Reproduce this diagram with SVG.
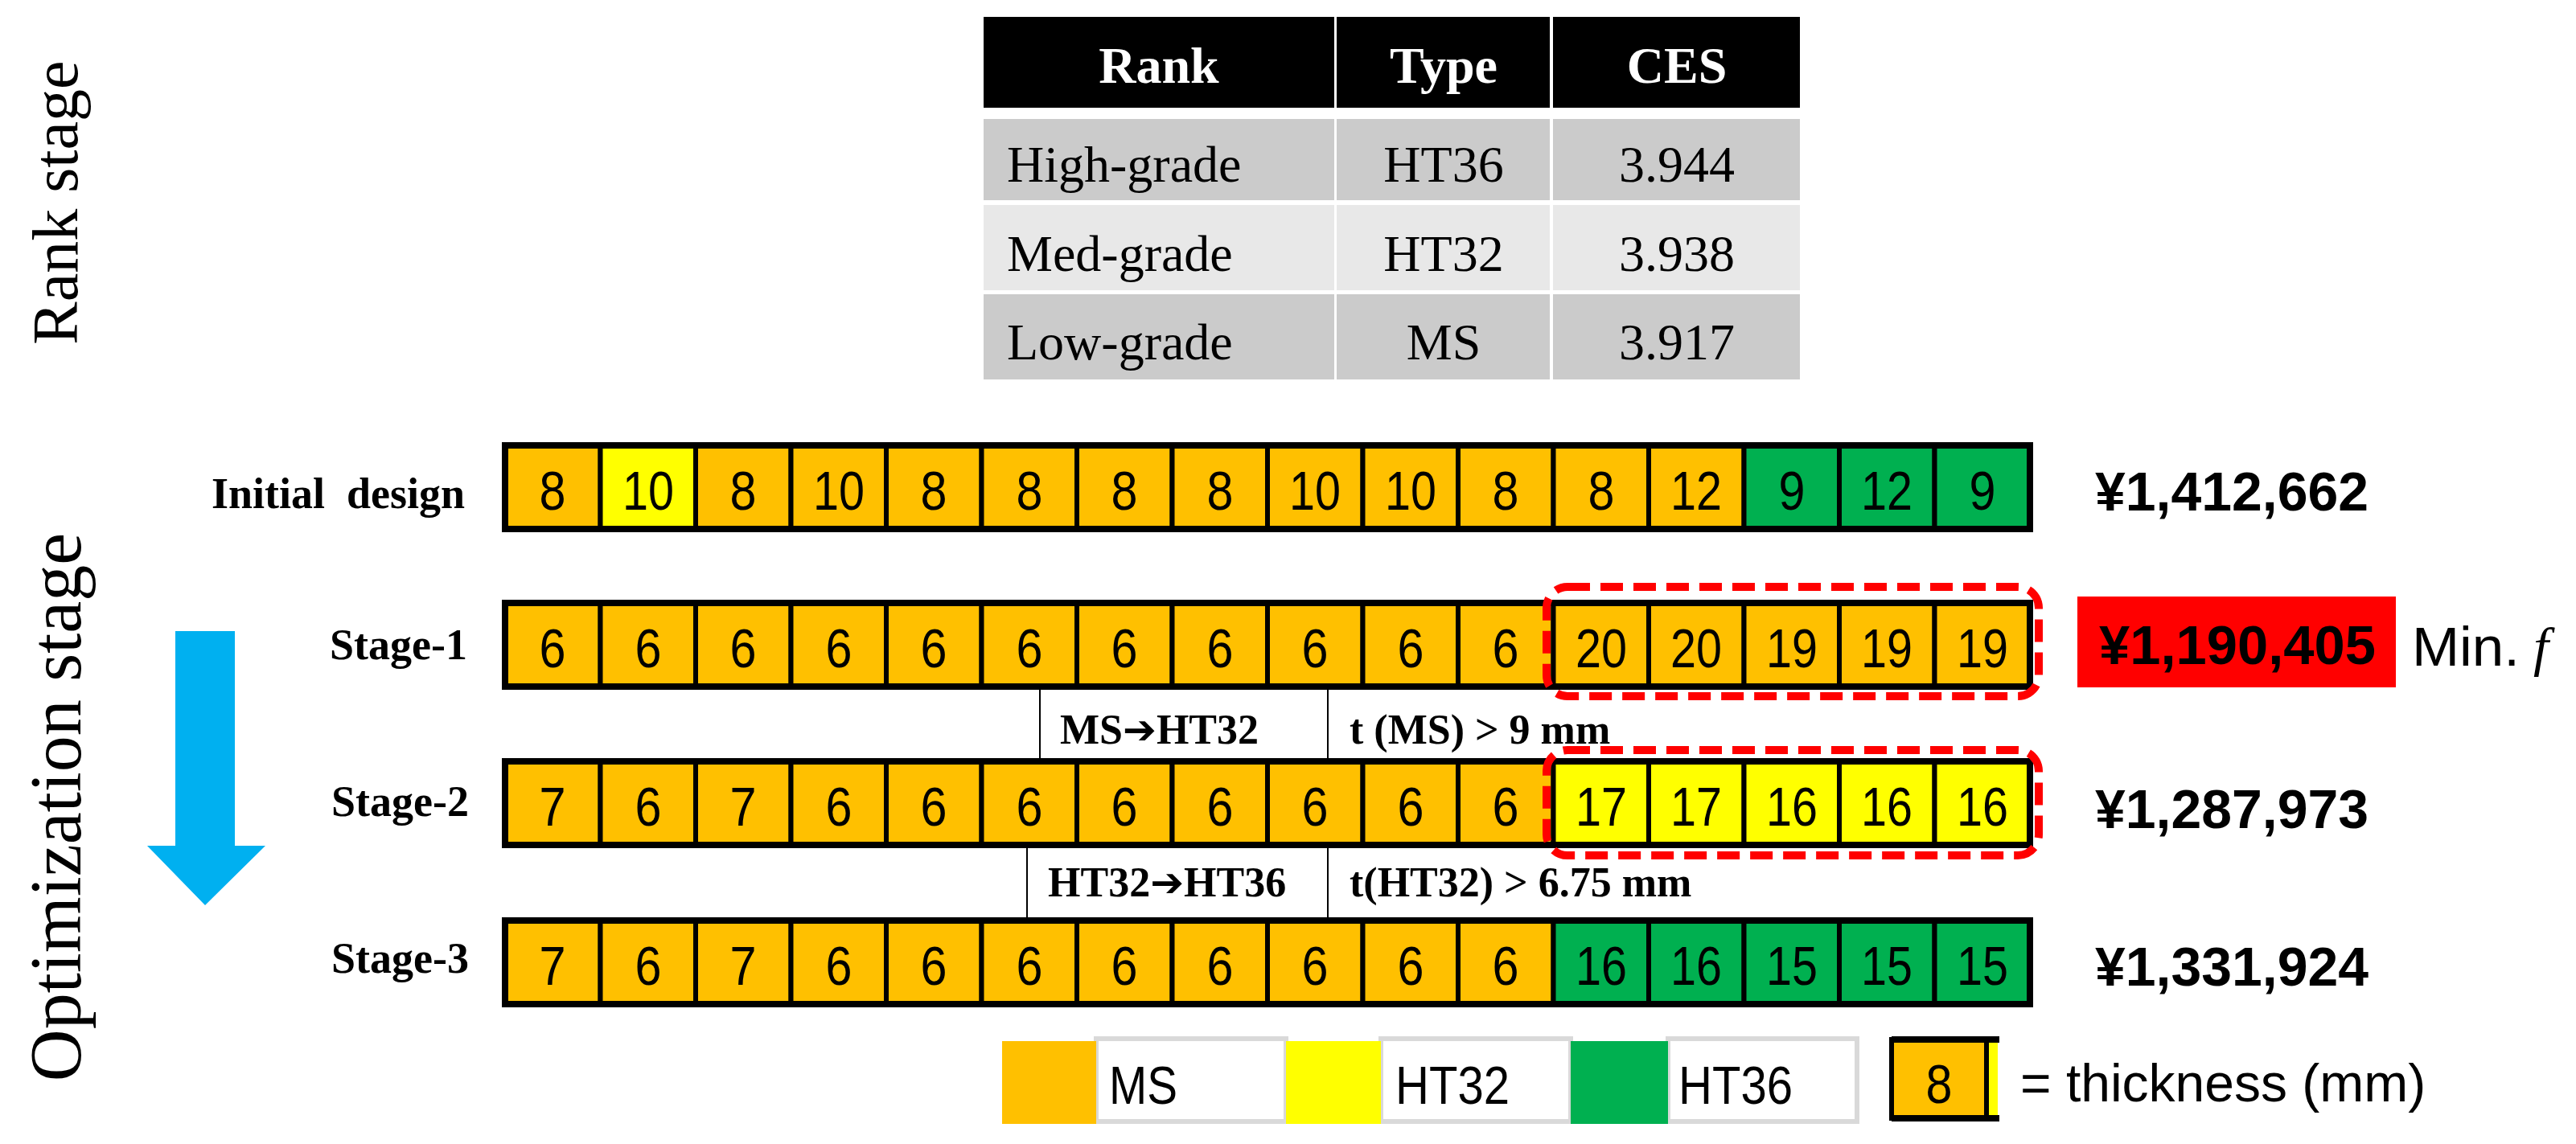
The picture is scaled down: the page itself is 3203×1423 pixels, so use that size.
<svg xmlns="http://www.w3.org/2000/svg" width="3203" height="1423" viewBox="0 0 3203 1423">
<style>
.o{fill:#FFC000}.y{fill:#FFFF00}.g{fill:#00B050}
.c{stroke:#000;stroke-width:6}
.frame{fill:none;stroke:#000;stroke-width:8}
.n{font-family:"Liberation Sans",sans-serif;font-size:68px;text-anchor:middle;fill:#000}
.lbl{font-family:"Liberation Serif",serif;font-weight:bold;font-size:54px;text-anchor:end}
.cost{font-family:"Liberation Sans",sans-serif;font-weight:bold;font-size:68px}
.th{font-family:"Liberation Serif",serif;font-weight:bold;font-size:64px;fill:#fff;text-anchor:middle}
.td{font-family:"Liberation Serif",serif;font-size:64px;fill:#000}
.mid{text-anchor:middle}
.ann{font-family:"Liberation Serif",serif;font-weight:bold;font-size:52px}
.arr{font-family:"DejaVu Sans",sans-serif;font-size:50px;font-weight:bold}
.side{font-family:"Liberation Serif",serif;fill:#000}
.leg{font-family:"Liberation Sans",sans-serif;font-size:66px}
.hl{fill:none;stroke:#FF0000;stroke-width:10;stroke-dasharray:28 13}
.thin{stroke:#000;stroke-width:2}
</style>

<g id="side-labels">
<text class="side" font-size="80" transform="translate(96,252) rotate(-90)" text-anchor="middle">Rank stage</text>
<text class="side" font-size="90" transform="translate(100,1004) rotate(-90)" text-anchor="middle">Optimization stage</text>
</g>

<g id="flow-arrow">
<polygon points="218,785 292,785 292,1052 330,1052 255,1126 183,1052 218,1052" fill="#00B0F0"/>
</g>

<g id="rank-table">
<rect x="1223" y="21" width="436" height="113" fill="#000"/>
<rect x="1662" y="21" width="265" height="113" fill="#000"/>
<rect x="1931" y="21" width="307" height="113" fill="#000"/>
<text class="th" x="1441" y="103">Rank</text>
<text class="th" x="1795" y="103">Type</text>
<text class="th" x="2085" y="103">CES</text>
<rect x="1223" y="148" width="436" height="101" fill="#CBCBCB"/>
<rect x="1662" y="148" width="265" height="101" fill="#CBCBCB"/>
<rect x="1931" y="148" width="307" height="101" fill="#CBCBCB"/>
<rect x="1223" y="255" width="436" height="106" fill="#E8E8E8"/>
<rect x="1662" y="255" width="265" height="106" fill="#E8E8E8"/>
<rect x="1931" y="255" width="307" height="106" fill="#E8E8E8"/>
<rect x="1223" y="366" width="436" height="106" fill="#CBCBCB"/>
<rect x="1662" y="366" width="265" height="106" fill="#CBCBCB"/>
<rect x="1931" y="366" width="307" height="106" fill="#CBCBCB"/>
<text class="td" x="1252" y="226">High-grade</text>
<text class="td mid" x="1795" y="226">HT36</text>
<text class="td mid" x="2085" y="226">3.944</text>
<text class="td" x="1252" y="337">Med-grade</text>
<text class="td mid" x="1795" y="337">HT32</text>
<text class="td mid" x="2085" y="337">3.938</text>
<text class="td" x="1252" y="447">Low-grade</text>
<text class="td mid" x="1795" y="447">MS</text>
<text class="td mid" x="2085" y="447">3.917</text>
</g>

<g id="row-initial">
<text class="lbl" x="578" y="632" xml:space="preserve">Initial  design</text>
<g transform="translate(0,554)">
<rect class="c o" x="628" y="0" width="118.5" height="104"/>
<rect class="c y" x="746.5" y="0" width="118.5" height="104"/>
<rect class="c o" x="865" y="0" width="118.5" height="104"/>
<rect class="c o" x="983.5" y="0" width="118.5" height="104"/>
<rect class="c o" x="1102" y="0" width="118.5" height="104"/>
<rect class="c o" x="1220.5" y="0" width="118.5" height="104"/>
<rect class="c o" x="1339" y="0" width="118.5" height="104"/>
<rect class="c o" x="1457.5" y="0" width="118.5" height="104"/>
<rect class="c o" x="1576" y="0" width="118.5" height="104"/>
<rect class="c o" x="1694.5" y="0" width="118.5" height="104"/>
<rect class="c o" x="1813" y="0" width="118.5" height="104"/>
<rect class="c o" x="1931.5" y="0" width="118.5" height="104"/>
<rect class="c o" x="2050" y="0" width="118.5" height="104"/>
<rect class="c g" x="2168.5" y="0" width="118.5" height="104"/>
<rect class="c g" x="2287" y="0" width="118.5" height="104"/>
<rect class="c g" x="2405.5" y="0" width="118.5" height="104"/>
<rect class="frame" x="628" y="0" width="1896" height="104"/>
<text class="n" x="687" y="80" textLength="33" lengthAdjust="spacingAndGlyphs">8</text><text class="n" x="806" y="80" textLength="64" lengthAdjust="spacingAndGlyphs">10</text><text class="n" x="924" y="80" textLength="33" lengthAdjust="spacingAndGlyphs">8</text><text class="n" x="1043" y="80" textLength="64" lengthAdjust="spacingAndGlyphs">10</text>
<text class="n" x="1161" y="80" textLength="33" lengthAdjust="spacingAndGlyphs">8</text><text class="n" x="1280" y="80" textLength="33" lengthAdjust="spacingAndGlyphs">8</text><text class="n" x="1398" y="80" textLength="33" lengthAdjust="spacingAndGlyphs">8</text><text class="n" x="1517" y="80" textLength="33" lengthAdjust="spacingAndGlyphs">8</text>
<text class="n" x="1635" y="80" textLength="64" lengthAdjust="spacingAndGlyphs">10</text><text class="n" x="1754" y="80" textLength="64" lengthAdjust="spacingAndGlyphs">10</text><text class="n" x="1872" y="80" textLength="33" lengthAdjust="spacingAndGlyphs">8</text><text class="n" x="1991" y="80" textLength="33" lengthAdjust="spacingAndGlyphs">8</text>
<text class="n" x="2109" y="80" textLength="64" lengthAdjust="spacingAndGlyphs">12</text><text class="n" x="2228" y="80" textLength="33" lengthAdjust="spacingAndGlyphs">9</text><text class="n" x="2346" y="80" textLength="64" lengthAdjust="spacingAndGlyphs">12</text><text class="n" x="2465" y="80" textLength="33" lengthAdjust="spacingAndGlyphs">9</text>
</g>
<text class="cost" x="2605" y="635" textLength="340" lengthAdjust="spacingAndGlyphs">¥1,412,662</text>
</g>

<g id="row-stage1">
<text class="lbl" x="581" y="820">Stage-1</text>
<g transform="translate(0,750)">
<rect class="c o" x="628" y="0" width="118.5" height="104"/>
<rect class="c o" x="746.5" y="0" width="118.5" height="104"/>
<rect class="c o" x="865" y="0" width="118.5" height="104"/>
<rect class="c o" x="983.5" y="0" width="118.5" height="104"/>
<rect class="c o" x="1102" y="0" width="118.5" height="104"/>
<rect class="c o" x="1220.5" y="0" width="118.5" height="104"/>
<rect class="c o" x="1339" y="0" width="118.5" height="104"/>
<rect class="c o" x="1457.5" y="0" width="118.5" height="104"/>
<rect class="c o" x="1576" y="0" width="118.5" height="104"/>
<rect class="c o" x="1694.5" y="0" width="118.5" height="104"/>
<rect class="c o" x="1813" y="0" width="118.5" height="104"/>
<rect class="c o" x="1931.5" y="0" width="118.5" height="104"/>
<rect class="c o" x="2050" y="0" width="118.5" height="104"/>
<rect class="c o" x="2168.5" y="0" width="118.5" height="104"/>
<rect class="c o" x="2287" y="0" width="118.5" height="104"/>
<rect class="c o" x="2405.5" y="0" width="118.5" height="104"/>
<rect class="frame" x="628" y="0" width="1896" height="104"/>
<text class="n" x="687" y="80" textLength="33" lengthAdjust="spacingAndGlyphs">6</text><text class="n" x="806" y="80" textLength="33" lengthAdjust="spacingAndGlyphs">6</text><text class="n" x="924" y="80" textLength="33" lengthAdjust="spacingAndGlyphs">6</text><text class="n" x="1043" y="80" textLength="33" lengthAdjust="spacingAndGlyphs">6</text>
<text class="n" x="1161" y="80" textLength="33" lengthAdjust="spacingAndGlyphs">6</text><text class="n" x="1280" y="80" textLength="33" lengthAdjust="spacingAndGlyphs">6</text><text class="n" x="1398" y="80" textLength="33" lengthAdjust="spacingAndGlyphs">6</text><text class="n" x="1517" y="80" textLength="33" lengthAdjust="spacingAndGlyphs">6</text>
<text class="n" x="1635" y="80" textLength="33" lengthAdjust="spacingAndGlyphs">6</text><text class="n" x="1754" y="80" textLength="33" lengthAdjust="spacingAndGlyphs">6</text><text class="n" x="1872" y="80" textLength="33" lengthAdjust="spacingAndGlyphs">6</text><text class="n" x="1991" y="80" textLength="64" lengthAdjust="spacingAndGlyphs">20</text>
<text class="n" x="2109" y="80" textLength="64" lengthAdjust="spacingAndGlyphs">20</text><text class="n" x="2228" y="80" textLength="64" lengthAdjust="spacingAndGlyphs">19</text><text class="n" x="2346" y="80" textLength="64" lengthAdjust="spacingAndGlyphs">19</text><text class="n" x="2465" y="80" textLength="64" lengthAdjust="spacingAndGlyphs">19</text>
</g>
<rect x="2583" y="742" width="396" height="113" fill="#FF0000"/>
<text class="cost" x="2610" y="826" textLength="344" lengthAdjust="spacingAndGlyphs">¥1,190,405</text>
<text x="2999" y="828" font-family="Liberation Sans, sans-serif" font-size="68" textLength="134" lengthAdjust="spacingAndGlyphs">Min.</text>
<text x="3150" y="828" font-family="Liberation Serif, serif" font-style="italic" font-size="68">f</text>
</g>

<g id="row-stage2">
<text class="lbl" x="583" y="1015">Stage-2</text>
<g transform="translate(0,947)">
<rect class="c o" x="628" y="0" width="118.5" height="104"/>
<rect class="c o" x="746.5" y="0" width="118.5" height="104"/>
<rect class="c o" x="865" y="0" width="118.5" height="104"/>
<rect class="c o" x="983.5" y="0" width="118.5" height="104"/>
<rect class="c o" x="1102" y="0" width="118.5" height="104"/>
<rect class="c o" x="1220.5" y="0" width="118.5" height="104"/>
<rect class="c o" x="1339" y="0" width="118.5" height="104"/>
<rect class="c o" x="1457.5" y="0" width="118.5" height="104"/>
<rect class="c o" x="1576" y="0" width="118.5" height="104"/>
<rect class="c o" x="1694.5" y="0" width="118.5" height="104"/>
<rect class="c o" x="1813" y="0" width="118.5" height="104"/>
<rect class="c y" x="1931.5" y="0" width="118.5" height="104"/>
<rect class="c y" x="2050" y="0" width="118.5" height="104"/>
<rect class="c y" x="2168.5" y="0" width="118.5" height="104"/>
<rect class="c y" x="2287" y="0" width="118.5" height="104"/>
<rect class="c y" x="2405.5" y="0" width="118.5" height="104"/>
<rect class="frame" x="628" y="0" width="1896" height="104"/>
<text class="n" x="687" y="80" textLength="33" lengthAdjust="spacingAndGlyphs">7</text><text class="n" x="806" y="80" textLength="33" lengthAdjust="spacingAndGlyphs">6</text><text class="n" x="924" y="80" textLength="33" lengthAdjust="spacingAndGlyphs">7</text><text class="n" x="1043" y="80" textLength="33" lengthAdjust="spacingAndGlyphs">6</text>
<text class="n" x="1161" y="80" textLength="33" lengthAdjust="spacingAndGlyphs">6</text><text class="n" x="1280" y="80" textLength="33" lengthAdjust="spacingAndGlyphs">6</text><text class="n" x="1398" y="80" textLength="33" lengthAdjust="spacingAndGlyphs">6</text><text class="n" x="1517" y="80" textLength="33" lengthAdjust="spacingAndGlyphs">6</text>
<text class="n" x="1635" y="80" textLength="33" lengthAdjust="spacingAndGlyphs">6</text><text class="n" x="1754" y="80" textLength="33" lengthAdjust="spacingAndGlyphs">6</text><text class="n" x="1872" y="80" textLength="33" lengthAdjust="spacingAndGlyphs">6</text><text class="n" x="1991" y="80" textLength="64" lengthAdjust="spacingAndGlyphs">17</text>
<text class="n" x="2109" y="80" textLength="64" lengthAdjust="spacingAndGlyphs">17</text><text class="n" x="2228" y="80" textLength="64" lengthAdjust="spacingAndGlyphs">16</text><text class="n" x="2346" y="80" textLength="64" lengthAdjust="spacingAndGlyphs">16</text><text class="n" x="2465" y="80" textLength="64" lengthAdjust="spacingAndGlyphs">16</text>
</g>
<text class="cost" x="2605" y="1030" textLength="340" lengthAdjust="spacingAndGlyphs">¥1,287,973</text>
</g>

<g id="row-stage3">
<text class="lbl" x="583" y="1210">Stage-3</text>
<g transform="translate(0,1145)">
<rect class="c o" x="628" y="0" width="118.5" height="104"/>
<rect class="c o" x="746.5" y="0" width="118.5" height="104"/>
<rect class="c o" x="865" y="0" width="118.5" height="104"/>
<rect class="c o" x="983.5" y="0" width="118.5" height="104"/>
<rect class="c o" x="1102" y="0" width="118.5" height="104"/>
<rect class="c o" x="1220.5" y="0" width="118.5" height="104"/>
<rect class="c o" x="1339" y="0" width="118.5" height="104"/>
<rect class="c o" x="1457.5" y="0" width="118.5" height="104"/>
<rect class="c o" x="1576" y="0" width="118.5" height="104"/>
<rect class="c o" x="1694.5" y="0" width="118.5" height="104"/>
<rect class="c o" x="1813" y="0" width="118.5" height="104"/>
<rect class="c g" x="1931.5" y="0" width="118.5" height="104"/>
<rect class="c g" x="2050" y="0" width="118.5" height="104"/>
<rect class="c g" x="2168.5" y="0" width="118.5" height="104"/>
<rect class="c g" x="2287" y="0" width="118.5" height="104"/>
<rect class="c g" x="2405.5" y="0" width="118.5" height="104"/>
<rect class="frame" x="628" y="0" width="1896" height="104"/>
<text class="n" x="687" y="80" textLength="33" lengthAdjust="spacingAndGlyphs">7</text><text class="n" x="806" y="80" textLength="33" lengthAdjust="spacingAndGlyphs">6</text><text class="n" x="924" y="80" textLength="33" lengthAdjust="spacingAndGlyphs">7</text><text class="n" x="1043" y="80" textLength="33" lengthAdjust="spacingAndGlyphs">6</text>
<text class="n" x="1161" y="80" textLength="33" lengthAdjust="spacingAndGlyphs">6</text><text class="n" x="1280" y="80" textLength="33" lengthAdjust="spacingAndGlyphs">6</text><text class="n" x="1398" y="80" textLength="33" lengthAdjust="spacingAndGlyphs">6</text><text class="n" x="1517" y="80" textLength="33" lengthAdjust="spacingAndGlyphs">6</text>
<text class="n" x="1635" y="80" textLength="33" lengthAdjust="spacingAndGlyphs">6</text><text class="n" x="1754" y="80" textLength="33" lengthAdjust="spacingAndGlyphs">6</text><text class="n" x="1872" y="80" textLength="33" lengthAdjust="spacingAndGlyphs">6</text><text class="n" x="1991" y="80" textLength="64" lengthAdjust="spacingAndGlyphs">16</text>
<text class="n" x="2109" y="80" textLength="64" lengthAdjust="spacingAndGlyphs">16</text><text class="n" x="2228" y="80" textLength="64" lengthAdjust="spacingAndGlyphs">15</text><text class="n" x="2346" y="80" textLength="64" lengthAdjust="spacingAndGlyphs">15</text><text class="n" x="2465" y="80" textLength="64" lengthAdjust="spacingAndGlyphs">15</text>
</g>
<text class="cost" x="2605" y="1226" textLength="340" lengthAdjust="spacingAndGlyphs">¥1,331,924</text>
</g>

<g id="highlights">
<rect class="hl" x="1923" y="730" width="612" height="136" rx="26"/>
<rect class="hl" x="1923" y="933" width="612" height="131" rx="26"/>
</g>

<g id="connectors">
<line class="thin" x1="1293" y1="854" x2="1293" y2="947"/>
<line class="thin" x1="1651" y1="854" x2="1651" y2="947"/>
<line class="thin" x1="1277" y1="1051" x2="1277" y2="1145"/>
<line class="thin" x1="1651" y1="1051" x2="1651" y2="1145"/>
</g>

<g id="annotations">
<text class="ann" x="1318" y="925">MS<tspan class="arr">➔</tspan>HT32</text>
<text class="ann" x="1678" y="925">t (MS) &gt; 9 mm</text>
<text class="ann" x="1303" y="1115">HT32<tspan class="arr">➔</tspan>HT36</text>
<text class="ann" x="1678" y="1115">t(HT32) &gt; 6.75 mm</text>
</g>

<g id="legend">
<rect x="1363" y="1292" width="236" height="103" fill="#fff" stroke="#D9D9D9" stroke-width="6"/>
<rect x="1717" y="1292" width="236" height="103" fill="#fff" stroke="#D9D9D9" stroke-width="6"/>
<rect x="2074" y="1292" width="235" height="103" fill="#fff" stroke="#D9D9D9" stroke-width="6"/>
<rect x="1246" y="1295" width="117" height="103" fill="#FFC000"/>
<rect x="1599" y="1295" width="118" height="103" fill="#FFFF00"/>
<rect x="1953" y="1295" width="121" height="103" fill="#00B050"/>
<text class="leg" x="1379" y="1373" textLength="85" lengthAdjust="spacingAndGlyphs">MS</text>
<text class="leg" x="1735" y="1373" textLength="142" lengthAdjust="spacingAndGlyphs">HT32</text>
<text class="leg" x="2087" y="1373" textLength="142" lengthAdjust="spacingAndGlyphs">HT36</text>
<rect x="2352" y="1293" width="118" height="98" class="c o"/>
<rect x="2473" y="1293" width="11" height="98" fill="#FFFF00"/>
<line x1="2352" y1="1293" x2="2486" y2="1293" stroke="#000" stroke-width="8"/>
<line x1="2352" y1="1391" x2="2486" y2="1391" stroke="#000" stroke-width="8"/>
<text class="n" x="2411" y="1372" textLength="33" lengthAdjust="spacingAndGlyphs">8</text>
<text x="2512" y="1370" font-family="Liberation Sans, sans-serif" font-size="66">= thickness (mm)</text>
</g>
</svg>
